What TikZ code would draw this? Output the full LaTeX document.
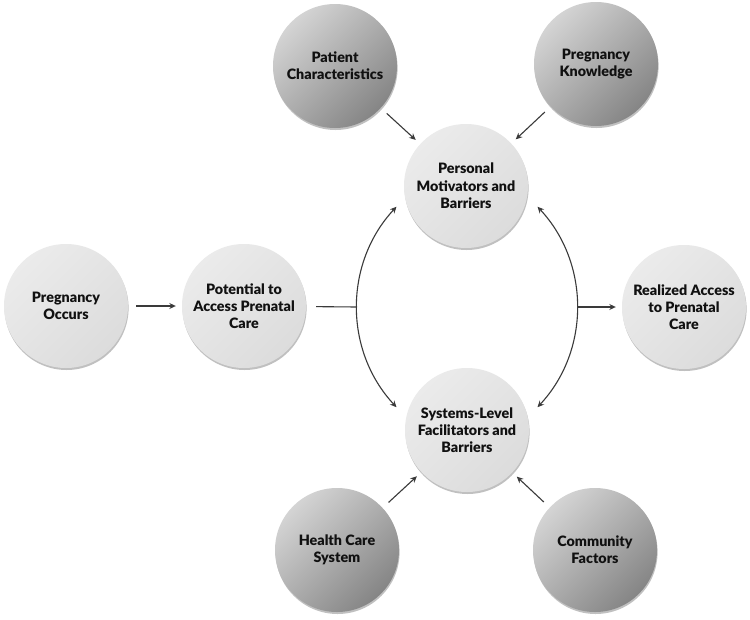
\documentclass[tikz,border=0pt]{standalone}
\usepackage{fontspec}
\setmainfont{Lato}[BoldFont={Lato Black}]
\usetikzlibrary{shadows,arrows.meta}
\definecolor{lightA}{HTML}{EBEBEB}
\definecolor{lightB}{HTML}{DCDCDC}
\definecolor{darkA}{HTML}{D4D4D4}
\definecolor{darkB}{HTML}{858585}
\definecolor{linec}{HTML}{3A3A3A}
\definecolor{textc}{HTML}{111111}
\begin{document}
\begin{tikzpicture}[x=1pt,y=1pt,
  bubble/.style={circle, minimum size=124pt, inner sep=0pt, align=center,
    font=\bfseries\fontsize{14.3}{17.3}\selectfont, text=textc,
    drop shadow={shadow xshift=0.6pt, shadow yshift=-2pt, opacity=0.35, fill=black!70}},
  lightb/.style={bubble, top color=lightA, bottom color=lightB, shading angle=45},
  darkb/.style={bubble, top color=darkA, bottom color=darkB, shading angle=45},
  conn/.style={draw=linec, line width=1.1pt},
  arr/.style={conn, -{Stealth[length=6.5pt,width=6pt]}},
  darr/.style={conn, {Stealth[length=6.5pt,width=6pt]}-{Stealth[length=6.5pt,width=6pt]}}]
\fill[white] (0,0) rectangle (750,-619);
\useasboundingbox (0,0) rectangle (750,-619);

\node[lightb] (occ) at (66,-306) {Pregnancy\\Occurs};
\node[lightb] (pot) at (244,-306) {Potential to\\Access Prenatal\\Care};
\node[lightb] (pers) at (466,-186) {Personal\\Motivators and\\Barriers};
\node[lightb] (sys) at (467,-430) {Systems-Level\\Facilitators and\\Barriers};
\node[lightb] (real) at (684,-307) {Realized Access\\to Prenatal\\Care};
\node[darkb] (pat) at (335,-66) {Patient\\Characteristics};
\node[darkb] (know) at (596,-64) {Pregnancy\\Knowledge};
\node[darkb] (hcs) at (337,-550) {Health Care\\System};
\node[darkb] (com) at (595,-550) {Community\\Factors};

\coordinate (jl) at (357,-307);
\coordinate (jr) at (577,-307);
\coordinate (lt) at (396.5,-206.7);
\coordinate (rt) at (537.5,-206.7);

\draw[arr, shorten <=8pt, shorten >=6pt] (occ) -- (pot);
\draw[conn, shorten <=10pt] (pot) -- (jl);
\draw[arr, shorten >=6pt] (jr) -- (real);
\draw[darr] (lt) arc[start angle=137, end angle=223, radius=147];
\draw[darr] (rt) arc[start angle=43, end angle=-43, radius=147];

\draw[arr, shorten <=8pt, shorten >=6pt] (pat) -- (pers);
\draw[arr, shorten <=8pt, shorten >=6pt] (know) -- (pers);
\draw[arr, shorten <=8pt, shorten >=6pt] (hcs) -- (sys);
\draw[arr, shorten <=8pt, shorten >=6pt] (com) -- (sys);
\end{tikzpicture}
\end{document}
